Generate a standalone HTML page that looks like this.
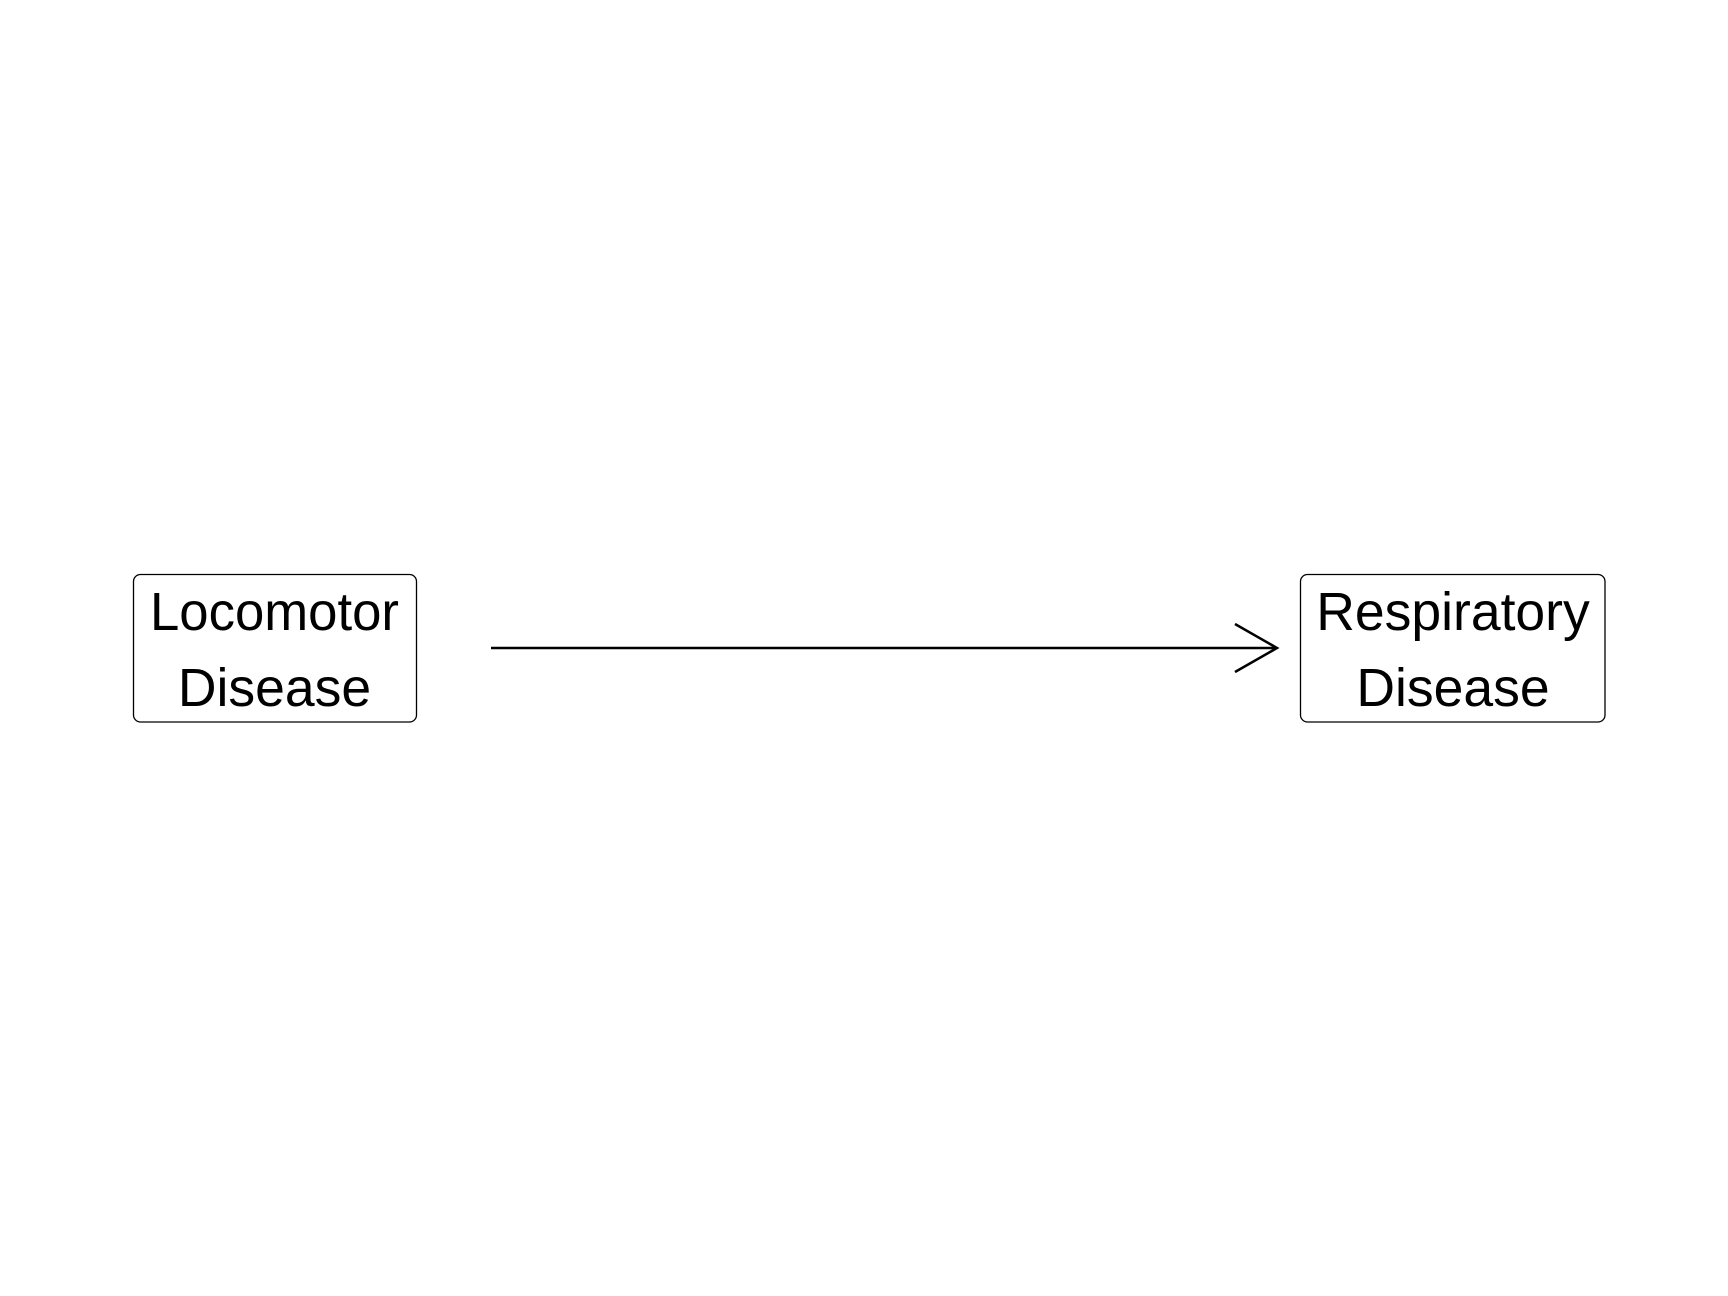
<!DOCTYPE html>
<html><head><meta charset="utf-8"><style>html,body{margin:0;padding:0;background:#fff}svg{display:block}</style></head>
<body>
<svg width="1728" height="1296" viewBox="0 0 1728 1296" xmlns="http://www.w3.org/2000/svg">
<rect width="1728" height="1296" fill="#fff"/>
<rect x="133.5" y="574.5" width="283" height="147.5" rx="7" ry="7" fill="none" stroke="#000" stroke-width="1.3"/>
<rect x="1300.5" y="574.5" width="304.5" height="147.5" rx="7" ry="7" fill="none" stroke="#000" stroke-width="1.3"/>
<g font-family="Liberation Sans, Arial, sans-serif" font-size="53.5" text-anchor="middle" fill="#000">
<text x="274.5" y="630" textLength="249" lengthAdjust="spacingAndGlyphs">Locomotor</text>
<text x="274.5" y="706">Disease</text>
<text x="1453" y="630">Respiratory</text>
<text x="1453" y="706">Disease</text>
</g>
<line x1="491" y1="648" x2="1276" y2="648" stroke="#000" stroke-width="2.5"/>
<polyline points="1235,624 1277,648 1235,672" fill="none" stroke="#000" stroke-width="2.5"/>
</svg>
</body></html>
